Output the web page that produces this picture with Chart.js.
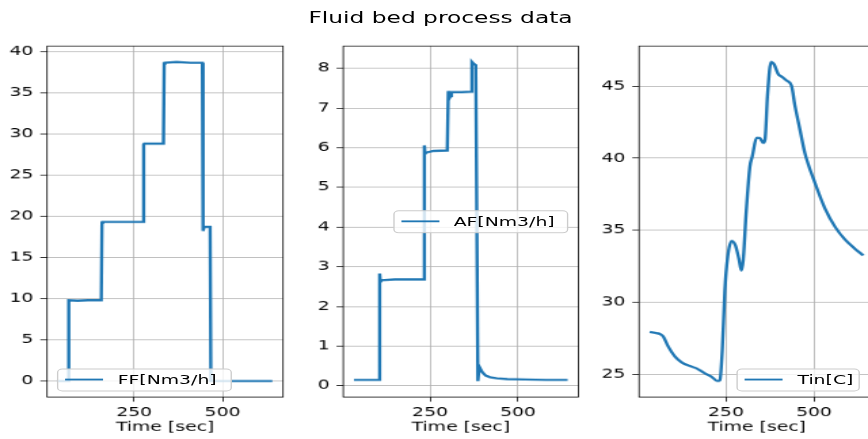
<!DOCTYPE html>
<html>
<head>
<meta charset="utf-8">
<script src="https://cdn.jsdelivr.net/npm/chart.js@4/dist/chart.umd.min.js"></script>
<style>
    html, body { margin: 0; padding: 0; background: #fff; overflow: hidden; }
    #wrap { position: relative; width: 868px; height: 439px; overflow: hidden; }
    /* figure drawn at 640x480 then stretched like the reference */
    #fig { position: absolute; left: 0; top: 0; width: 660px; height: 480px;
           transform-origin: 0 0; transform: scale(1.35625, 0.914583); }
    #fig canvas { position: absolute; left: 0; top: 0; }
    .title { position: absolute; left: 324.8px; top: 9px; transform: translateX(-50%);
             font: 17.2px "DejaVu Sans"; line-height: 21px; color: #000; white-space: nowrap; }
    .leg { position: absolute; box-sizing: border-box; height: 25px; border: 1px solid #ccc;
           border-radius: 4px; background: rgba(255,255,255,0.8); font: 13.89px "DejaVu Sans";
           color: #000; display: flex; align-items: center; padding-left: 5px; white-space: nowrap; }
    .leg i { display: inline-block; width: 28px; height: 2px; background: #1f77b4; margin-right: 11px; }
</style>
</head>
<body>
<div id="wrap">
    <div id="fig">
        <canvas id="c1" width="660" height="480"></canvas>
        <canvas id="c2" width="660" height="480"></canvas>
        <canvas id="c3" width="660" height="480"></canvas>
        <div class="title">Fluid bed process data</div>
    </div>
</div>
<script>
// ---------------------------------------------------------------------------
// Data
// ---------------------------------------------------------------------------
const seriesNames = ["FF[Nm3/h]", "AF[Nm3/h]", "Tin[C]"];
const xLabel = "Time [sec]";
const xTicks = [250, 500];

const ffTime  = [34, 63, 64, 66, 90, 120, 157, 159, 161, 220, 275, 277, 279, 333, 335, 337, 370, 410, 443, 445, 448, 465, 467, 641];
const ffValue = [0, 0, 9.7, 9.8, 9.75, 9.8, 9.8, 19.2, 19.3, 19.3, 19.3, 28.7, 28.8, 28.8, 38.5, 38.6, 38.7, 38.6, 38.6, 18.2, 18.7, 18.7, 0, 0];
const ffTicks = [0, 5, 10, 15, 20, 25, 30, 35, 40];

const afTime  = [34, 106, 107, 109, 113, 150, 200, 231, 234, 236, 240, 260, 299, 302, 305, 308, 311, 340, 366, 369, 373, 380, 386, 389, 392, 398, 408, 420, 440, 470, 520, 580, 641];
const afValue = [0.15, 0.15, 2.83, 2.62, 2.66, 2.68, 2.68, 2.68, 6.06, 5.85, 5.88, 5.92, 5.93, 7.43, 7.25, 7.3, 7.4, 7.4, 7.41, 8.16, 8.12, 8.08, 0.12, 0.4, 0.45, 0.35, 0.26, 0.22, 0.19, 0.17, 0.16, 0.15, 0.15];
const afTicks = [0, 1, 2, 3, 4, 5, 6, 7, 8];

const tinTime  = [34, 55, 63, 72, 86, 105, 124, 152, 166, 190, 209, 226, 233, 240, 247, 255, 266, 277, 287, 294, 299, 308, 318, 325, 337, 346, 356, 361, 368, 378, 387, 398, 410, 422, 436, 446, 460, 474, 503, 531, 560, 588, 616, 640];
const tinValue = [27.94, 27.85, 27.8, 27.64, 26.94, 26.24, 25.84, 25.54, 25.42, 25.07, 24.84, 24.53, 24.6, 26.8, 30.8, 33.13, 34.25, 33.95, 33.0, 32.2, 32.9, 36.4, 39.4, 40.14, 41.42, 41.4, 41.07, 41.3, 44.34, 46.68, 46.5, 45.86, 45.63, 45.39, 45.04, 43.64, 42.0, 40.37, 38.27, 36.52, 35.23, 34.35, 33.72, 33.25];
const tinTicks = [25, 30, 35, 40, 45];

// ---------------------------------------------------------------------------
// Helpers
// ---------------------------------------------------------------------------
const FONT = { family: "DejaVu Sans", size: 13.89 };
const BLUE = "#1f77b4";

// matplotlib-style 5% autoscale margins
function padLimits(values) {
    const lo = Math.min(...values), hi = Math.max(...values);
    const m = (hi - lo) * 0.05;
    return [lo - m, hi + m];
}
const xLim = padLimits([...ffTime, ...afTime, ...tinTime]);

const frame = {
    id: "frame",
    afterDraw(chart) {
        const { ctx, chartArea: a } = chart;
        ctx.save();
        ctx.strokeStyle = "#000";
        ctx.lineWidth = 0.8;
        ctx.strokeRect(a.left, a.top, a.right - a.left, a.bottom - a.top);
        ctx.restore();
    }
};

function makePanel(canvasId, time, values, yTicks, plotLeft, plotRight, smooth) {
    const yLim = padLimits(values);
    const axisW = 30;
    return new Chart(document.getElementById(canvasId), {
        type: "line",
        data: {
            datasets: [{
                data: time.map((t, i) => ({ x: t, y: values[i] })),
                borderColor: BLUE,
                borderWidth: 2.4,
                pointRadius: 0,
                fill: false,
                tension: 0,
                cubicInterpolationMode: smooth ? "monotone" : "default"
            }]
        },
        options: {
            responsive: false,
            animation: false,
            devicePixelRatio: 1,
            layout: { padding: { left: plotLeft - axisW, right: 660 - plotRight, top: 50.3, bottom: 0 } },
            plugins: { legend: { display: false }, tooltip: { enabled: false } },
            scales: {
                x: {
                    type: "linear",
                    min: xLim[0], max: xLim[1],
                    afterBuildTicks: (s) => { s.ticks = xTicks.map(v => ({ value: v })); },
                    afterFit: (s) => { s.height = 45.9; },
                    grid: { color: "#b0b0b0", lineWidth: 0.8, tickColor: "#000", tickLength: 5 },
                    border: { display: false },
                    ticks: { font: FONT, color: "#000", padding: 4, maxRotation: 0 },
                    title: { display: true, text: xLabel, font: FONT, color: "#000" }
                },
                y: {
                    type: "linear",
                    min: yLim[0], max: yLim[1],
                    afterBuildTicks: (s) => { s.ticks = yTicks.map(v => ({ value: v })); },
                    afterFit: (s) => { s.width = axisW; },
                    grid: { color: "#b0b0b0", lineWidth: 0.8, tickColor: "#000", tickLength: 5 },
                    border: { display: false },
                    ticks: { font: FONT, color: "#000", padding: 5 }
                }
            }
        },
        plugins: [frame]
    });
}

function addLegend(text, left, top, width) {
    const el = document.createElement("div");
    el.className = "leg";
    el.style.left = left + "px";
    el.style.top = top + "px";
    el.style.width = width + "px";
    el.innerHTML = "<i></i>" + text;
    document.getElementById("fig").appendChild(el);
}

// ---------------------------------------------------------------------------
// Render
// ---------------------------------------------------------------------------
makePanel("c1", ffTime, ffValue, ffTicks, 34.7, 208.7, false);
makePanel("c2", afTime, afValue, afTicks, 253.1, 426.4, false);
makePanel("c3", tinTime, tinValue, tinTicks, 471.2, 644.7, true);

addLegend(seriesNames[0], 41.8, 402.5, 129);
addLegend(seriesNames[1], 289.5, 229.5, 129.5);
addLegend(seriesNames[2], 543, 402.5, 91);
</script>
</body>
</html>
